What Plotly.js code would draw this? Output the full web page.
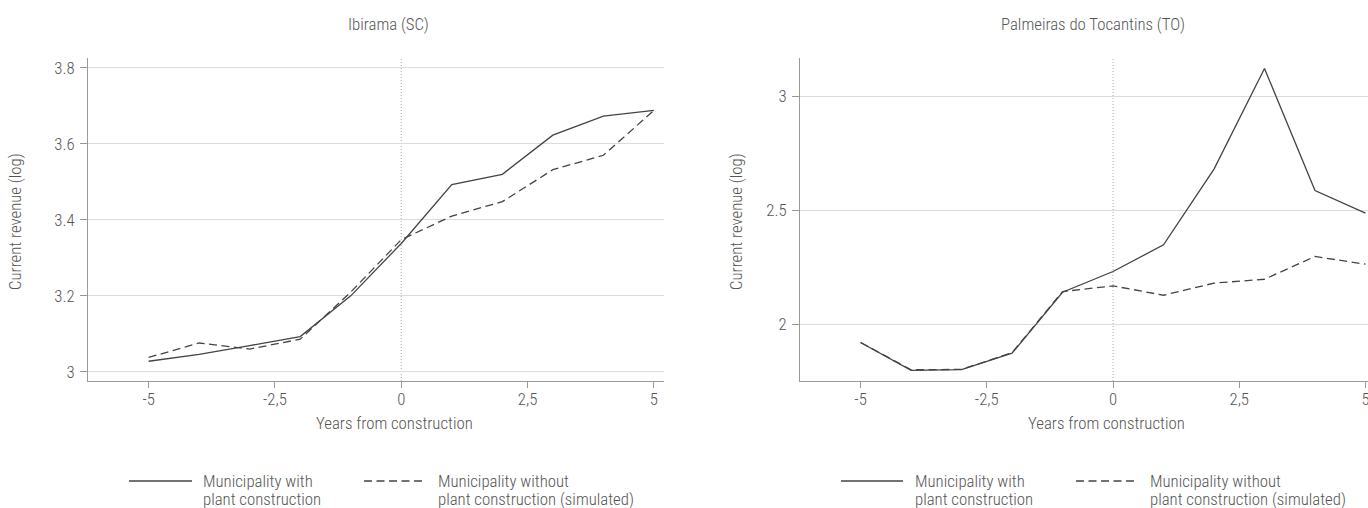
<!DOCTYPE html>
<html>
<head>
<meta charset="utf-8">
<script src="https://cdn.plot.ly/plotly-3.0.1.min.js"></script>
<style>
html,body{margin:0;padding:0;background:#fff;}
#chart{width:1368px;height:508px;}
text{font-stretch:75% !important;font-weight:300 !important;}
g.annotation[data-index="0"] text, g.annotation[data-index="1"] text{font-stretch:83% !important;}
</style>
</head>
<body>
<div id="chart"></div>
<script>
// ---- Data ----
const years = [-5, -4, -3, -2, -1, 0, 1, 2, 3, 4, 5];
const ibiramaWith = [3.028, 3.046, 3.069, 3.093, 3.200, 3.338, 3.493, 3.520, 3.623, 3.673, 3.688];
const ibiramaWithout = [3.038, 3.076, 3.060, 3.086, 3.210, 3.348, 3.410, 3.448, 3.532, 3.570, 3.688];
const palmeirasWith = [1.920, 1.798, 1.801, 1.873, 2.140, 2.231, 2.348, 2.680, 3.121, 2.586, 2.487];
const palmeirasWithout = [1.920, 1.800, 1.802, 1.875, 2.143, 2.168, 2.127, 2.180, 2.197, 2.297, 2.263];
const panelTitles = ["Ibirama (SC)", "Palmeiras do Tocantins (TO)"];
const xTickVals = [-5, -2.5, 0, 2.5, 5];
const xTickText = ["-5", "-2,5", "0", "2,5", "5"];
const yTickVals1 = [3, 3.2, 3.4, 3.6, 3.8];
const yTickText1 = ["3", "3.2", "3.4", "3.6", "3.8"];
const yTickVals2 = [2, 2.5, 3];
const yTickText2 = ["2", "2.5", "3"];
const legendLine1 = ["Municipality with", "Municipality without"];
const legendLine2 = ["plant construction", "plant construction (simulated)"];
const xTitle = "Years from construction";
const yTitle = "Current revenue (log)";

// ---- Styles ----
const FONT = "Roboto, sans-serif";
const FS = 16.8;
const TXT = "#555555";
const LINE = "#444444";
const DASH = '8px,4.5px';
const W = 1368, H = 508;
const px = v => v / W;
const py = v => 1 - v / H;

const traces = [
  {x: years, y: ibiramaWith, xaxis: 'x', yaxis: 'y', mode: 'lines', line: {color: LINE, width: 1.3}, name: 'with', showlegend: false, hoverinfo: 'skip'},
  {x: years, y: ibiramaWithout, xaxis: 'x', yaxis: 'y', mode: 'lines', line: {color: LINE, width: 1.3, dash: DASH}, name: 'without', showlegend: false, hoverinfo: 'skip'},
  {x: years, y: palmeirasWith, xaxis: 'x2', yaxis: 'y2', mode: 'lines', line: {color: LINE, width: 1.3}, name: 'with', showlegend: false, hoverinfo: 'skip'},
  {x: years, y: palmeirasWithout, xaxis: 'x2', yaxis: 'y2', mode: 'lines', line: {color: LINE, width: 1.3, dash: DASH}, name: 'without', showlegend: false, hoverinfo: 'skip'}
];

const xCommon = {
  tickvals: xTickVals, ticktext: xTickText, showgrid: false, zeroline: false,
  showline: true, linecolor: '#999999', linewidth: 1, ticks: 'outside', ticklen: 6, tickcolor: '#999999',
  ticklabelstandoff: -3,
  tickfont: {family: FONT, size: FS, color: TXT}, fixedrange: true, ticklabeloverflow: 'allow'
};
const yCommon = {
  showgrid: true, gridcolor: '#dcdcdc', gridwidth: 1, zeroline: false,
  showline: true, linecolor: '#999999', linewidth: 1, ticks: 'outside', ticklen: 7, tickcolor: '#999999',
  ticklabelstandoff: 2,
  tickfont: {family: FONT, size: FS, color: TXT}, fixedrange: true
};

const dom1 = [px(88), px(664)];
const dom2 = [px(800), 1];
const ydom = [py(381), py(58)];

const ann = (text, x, y, extra) => Object.assign({text: text, xref: 'paper', yref: 'paper', x: px(x), y: py(y), showarrow: false, xanchor: 'center', yanchor: 'middle', font: {family: FONT, size: FS, color: TXT}}, extra || {});
const keyLine = (x0, x1, y, dash) => ({type: 'line', xref: 'paper', yref: 'paper', x0: px(x0), x1: px(x1), y0: py(y), y1: py(y), line: {color: LINE, width: 1.3, dash: dash}});

const layout = {
  width: W, height: H,
  margin: {l: 0, r: 0, t: 0, b: 0},
  paper_bgcolor: '#ffffff', plot_bgcolor: '#ffffff',
  font: {family: FONT, color: TXT},
  showlegend: false,
  xaxis: Object.assign({}, xCommon, {domain: dom1, range: [-6.2, 5.2], anchor: 'y'}),
  yaxis: Object.assign({}, yCommon, {domain: ydom, range: [2.976, 3.826], tickvals: yTickVals1, ticktext: yTickText1, anchor: 'x'}),
  xaxis2: Object.assign({}, xCommon, {domain: dom2, range: [-6.2, 5.05], anchor: 'y2'}),
  yaxis2: Object.assign({}, yCommon, {domain: ydom, range: [1.751, 3.167], tickvals: yTickVals2, ticktext: yTickText2, anchor: 'x2'}),
  shapes: [
    {type: 'line', xref: 'x', yref: 'y domain', x0: 0, x1: 0, y0: 0, y1: 1, line: {color: '#aaaaaa', width: 1, dash: '1px,2px'}, layer: 'below'},
    {type: 'line', xref: 'x2', yref: 'y2 domain', x0: 0, x1: 0, y0: 0, y1: 1, line: {color: '#aaaaaa', width: 1, dash: '1px,2px'}, layer: 'below'},
    keyLine(129, 192, 481, 'solid'),
    keyLine(364, 426, 481, DASH),
    keyLine(841, 903, 481, 'solid'),
    keyLine(1076, 1138, 481, DASH)
  ],
  annotations: [
    ann(panelTitles[0], 389, 24),
    ann(panelTitles[1], 1093, 24),
    ann(xTitle, 394, 423),
    ann(xTitle, 1106, 423),
    ann(yTitle, 15, 222, {textangle: -90}),
    ann(yTitle, 736, 222, {textangle: -90}),
    ann(legendLine1[0], 201, 481, {xanchor: 'left'}),
    ann(legendLine2[0], 201, 499, {xanchor: 'left'}),
    ann(legendLine1[1], 436, 481, {xanchor: 'left'}),
    ann(legendLine2[1], 436, 499, {xanchor: 'left'}),
    ann(legendLine1[0], 913, 481, {xanchor: 'left'}),
    ann(legendLine2[0], 913, 499, {xanchor: 'left'}),
    ann(legendLine1[1], 1148, 481, {xanchor: 'left'}),
    ann(legendLine2[1], 1148, 499, {xanchor: 'left'})
  ]
};

Plotly.newPlot('chart', traces, layout, {displayModeBar: false, staticPlot: true});
</script>
</body>
</html>
